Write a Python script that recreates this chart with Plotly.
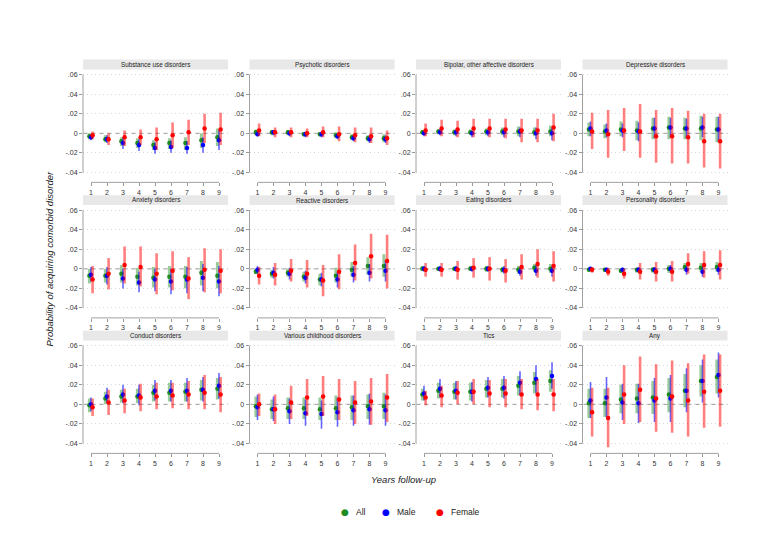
import plotly.graph_objects as go
from plotly.subplots import make_subplots

years = [1, 2, 3, 4, 5, 6, 7, 8, 9]
panel_titles = [
    "Substance use disorders", "Psychotic disorders", "Bipolar, other affective disorders", "Depressive disorders",
    "Anxiety disorders", "Reactive disorders", "Eating disorders", "Personality disorders",
    "Conduct disorders", "Various childhood disorders", "Tics", "Any",
]
ytick_vals = [-0.04, -0.02, 0, 0.02, 0.04, 0.06]
ytick_text = ["-.04", "-.02", "0", ".02", ".04", ".06"]

# point estimates and 95% CI, one row per panel (in panel order above)
all_est = [
    [-0.003, -0.006, -0.008, -0.010, -0.012, -0.010, -0.010, -0.007, -0.004],
    [0.001, 0.001, 0.001, -0.001, -0.001, -0.002, -0.004, -0.005, -0.005],
    [0.001, 0.002, 0.001, 0.001, 0.002, 0.002, 0.002, 0.001, 0.002],
    [0.004, 0.002, 0.004, 0.003, 0.005, 0.006, 0.005, 0.005, 0.004],
    [-0.007, -0.007, -0.005, -0.008, -0.009, -0.008, -0.008, -0.004, -0.007],
    [-0.003, -0.005, -0.004, -0.008, -0.011, -0.007, -0.001, 0.003, 0.003],
    [0.000, 0.000, 0.000, 0.000, 0.000, -0.001, -0.001, 0.001, 0.000],
    [-0.001, -0.001, -0.002, -0.001, -0.001, 0.000, 0.002, 0.001, 0.002],
    [-0.001, 0.006, 0.008, 0.008, 0.012, 0.012, 0.013, 0.015, 0.016],
    [-0.002, -0.005, -0.004, -0.004, -0.005, -0.004, -0.003, -0.002, -0.002],
    [0.010, 0.014, 0.013, 0.013, 0.016, 0.016, 0.019, 0.022, 0.024],
    [0.001, 0.001, 0.005, 0.006, 0.007, 0.010, 0.014, 0.024, 0.028],
]
all_lo = [
    [-0.006, -0.009, -0.013, -0.015, -0.017, -0.016, -0.017, -0.015, -0.013],
    [-0.002, -0.002, -0.002, -0.003, -0.003, -0.005, -0.007, -0.008, -0.009],
    [-0.001, -0.001, -0.002, -0.002, -0.002, -0.002, -0.003, -0.003, -0.003],
    [-0.003, -0.005, -0.003, -0.007, -0.006, -0.006, -0.006, -0.007, -0.009],
    [-0.015, -0.014, -0.014, -0.017, -0.019, -0.019, -0.020, -0.017, -0.020],
    [-0.005, -0.009, -0.008, -0.013, -0.017, -0.014, -0.008, -0.006, -0.008],
    [-0.002, -0.002, -0.002, -0.002, -0.003, -0.004, -0.005, -0.003, -0.004],
    [-0.002, -0.003, -0.004, -0.004, -0.004, -0.004, -0.002, -0.003, -0.003],
    [-0.008, 0.000, 0.002, 0.001, 0.003, 0.003, 0.003, 0.004, 0.005],
    [-0.013, -0.015, -0.015, -0.015, -0.016, -0.016, -0.016, -0.015, -0.015],
    [0.004, 0.006, 0.005, 0.004, 0.007, 0.007, 0.009, 0.011, 0.013],
    [-0.014, -0.013, -0.009, -0.009, -0.010, -0.008, -0.003, 0.008, 0.011],
]
all_hi = [
    [0.000, -0.002, -0.004, -0.005, -0.007, -0.005, -0.004, 0.000, 0.005],
    [0.004, 0.003, 0.003, 0.001, 0.001, 0.001, -0.001, -0.002, -0.001],
    [0.003, 0.004, 0.004, 0.004, 0.005, 0.006, 0.007, 0.006, 0.008],
    [0.011, 0.009, 0.012, 0.013, 0.016, 0.017, 0.016, 0.018, 0.017],
    [0.000, 0.000, 0.004, 0.001, 0.002, 0.003, 0.003, 0.008, 0.007],
    [0.000, -0.001, 0.000, -0.003, -0.005, 0.001, 0.007, 0.012, 0.015],
    [0.003, 0.002, 0.002, 0.003, 0.003, 0.002, 0.003, 0.005, 0.005],
    [0.001, 0.000, 0.000, 0.001, 0.002, 0.004, 0.006, 0.006, 0.007],
    [0.006, 0.013, 0.015, 0.016, 0.020, 0.022, 0.022, 0.025, 0.027],
    [0.008, 0.005, 0.007, 0.007, 0.007, 0.009, 0.009, 0.010, 0.012],
    [0.016, 0.022, 0.022, 0.022, 0.025, 0.026, 0.029, 0.033, 0.035],
    [0.016, 0.016, 0.020, 0.021, 0.024, 0.027, 0.031, 0.040, 0.046],
]

male_est = [
    [-0.004, -0.006, -0.010, -0.012, -0.015, -0.014, -0.015, -0.012, -0.007],
    [-0.001, 0.001, 0.000, -0.001, -0.001, -0.003, -0.005, -0.006, -0.006],
    [0.000, 0.001, 0.001, 0.000, 0.001, 0.001, 0.002, 0.000, 0.000],
    [0.005, 0.003, 0.003, 0.002, 0.005, 0.006, 0.005, 0.006, 0.004],
    [-0.006, -0.007, -0.010, -0.014, -0.011, -0.013, -0.011, -0.009, -0.013],
    [-0.001, -0.004, -0.005, -0.009, -0.011, -0.011, -0.006, -0.004, -0.002],
    [0.000, 0.000, 0.000, 0.000, 0.000, -0.001, -0.003, -0.002, -0.002],
    [0.000, -0.001, -0.001, -0.001, -0.001, 0.000, -0.001, -0.003, -0.001],
    [0.000, 0.008, 0.010, 0.009, 0.014, 0.014, 0.014, 0.015, 0.019],
    [-0.003, -0.005, -0.007, -0.009, -0.010, -0.008, -0.006, -0.005, -0.006],
    [0.011, 0.016, 0.014, 0.013, 0.017, 0.017, 0.022, 0.026, 0.029],
    [0.004, 0.007, 0.002, 0.001, 0.004, 0.006, 0.014, 0.024, 0.030],
]
male_lo = [
    [-0.007, -0.010, -0.016, -0.018, -0.021, -0.020, -0.021, -0.020, -0.017],
    [-0.003, -0.002, -0.003, -0.004, -0.004, -0.006, -0.008, -0.010, -0.010],
    [-0.003, -0.002, -0.003, -0.004, -0.003, -0.004, -0.004, -0.006, -0.007],
    [-0.003, -0.004, -0.004, -0.008, -0.005, -0.004, -0.005, -0.004, -0.008],
    [-0.013, -0.016, -0.020, -0.024, -0.023, -0.026, -0.025, -0.023, -0.028],
    [-0.005, -0.010, -0.011, -0.015, -0.018, -0.019, -0.014, -0.013, -0.013],
    [-0.003, -0.003, -0.003, -0.003, -0.003, -0.005, -0.007, -0.007, -0.008],
    [-0.002, -0.003, -0.003, -0.004, -0.005, -0.004, -0.006, -0.008, -0.006],
    [-0.007, 0.001, 0.001, -0.001, 0.004, 0.003, 0.003, 0.003, 0.006],
    [-0.016, -0.017, -0.020, -0.022, -0.025, -0.023, -0.022, -0.021, -0.022],
    [0.004, 0.007, 0.005, 0.003, 0.007, 0.006, 0.009, 0.012, 0.016],
    [-0.014, -0.013, -0.016, -0.019, -0.018, -0.018, -0.008, 0.002, 0.007],
]
male_hi = [
    [-0.001, -0.002, -0.004, -0.006, -0.009, -0.007, -0.008, -0.004, 0.003],
    [0.002, 0.003, 0.003, 0.002, 0.002, 0.000, -0.001, -0.002, -0.002],
    [0.002, 0.004, 0.004, 0.003, 0.004, 0.005, 0.006, 0.006, 0.006],
    [0.012, 0.010, 0.010, 0.011, 0.016, 0.016, 0.015, 0.017, 0.017],
    [0.002, 0.002, 0.000, -0.003, 0.000, 0.000, 0.002, 0.005, 0.003],
    [0.003, 0.002, 0.001, -0.002, -0.004, -0.003, 0.003, 0.005, 0.009],
    [0.003, 0.003, 0.003, 0.003, 0.003, 0.003, 0.002, 0.004, 0.003],
    [0.002, 0.001, 0.001, 0.002, 0.002, 0.004, 0.003, 0.002, 0.004],
    [0.007, 0.017, 0.020, 0.020, 0.025, 0.025, 0.027, 0.028, 0.032],
    [0.010, 0.008, 0.006, 0.005, 0.004, 0.007, 0.009, 0.011, 0.010],
    [0.019, 0.026, 0.024, 0.023, 0.028, 0.029, 0.034, 0.040, 0.043],
    [0.023, 0.028, 0.021, 0.021, 0.027, 0.030, 0.037, 0.046, 0.053],
]

fem_est = [
    [-0.002, -0.006, -0.004, -0.004, -0.006, -0.002, 0.001, 0.005, 0.004],
    [0.003, 0.001, 0.001, 0.000, 0.001, -0.001, -0.002, -0.003, -0.005],
    [0.003, 0.005, 0.004, 0.005, 0.005, 0.004, 0.003, 0.003, 0.006],
    [0.002, -0.001, 0.003, 0.002, -0.003, -0.003, -0.004, -0.008, -0.008],
    [-0.011, -0.005, 0.004, 0.002, -0.005, -0.002, -0.010, -0.001, -0.002],
    [-0.007, -0.006, -0.002, -0.005, -0.012, -0.003, 0.006, 0.013, 0.008],
    [-0.001, -0.001, -0.001, 0.001, 0.000, -0.002, 0.002, 0.005, 0.003],
    [-0.001, -0.003, -0.005, -0.003, -0.003, -0.003, 0.005, 0.004, 0.004],
    [-0.003, 0.002, 0.004, 0.007, 0.008, 0.009, 0.010, 0.012, 0.010],
    [0.000, -0.005, 0.002, 0.007, 0.008, 0.005, 0.002, 0.003, 0.007],
    [0.007, 0.009, 0.012, 0.013, 0.011, 0.011, 0.010, 0.010, 0.010],
    [-0.008, -0.014, 0.010, 0.015, 0.006, 0.008, 0.004, 0.013, 0.014],
]
fem_lo = [
    [-0.006, -0.012, -0.013, -0.012, -0.017, -0.015, -0.012, -0.010, -0.012],
    [-0.003, -0.004, -0.004, -0.004, -0.004, -0.008, -0.009, -0.010, -0.012],
    [-0.003, -0.003, -0.004, -0.004, -0.004, -0.005, -0.009, -0.009, -0.008],
    [-0.016, -0.025, -0.018, -0.025, -0.030, -0.031, -0.031, -0.035, -0.036],
    [-0.025, -0.021, -0.015, -0.018, -0.026, -0.022, -0.031, -0.024, -0.025],
    [-0.016, -0.017, -0.013, -0.019, -0.028, -0.021, -0.012, -0.010, -0.020],
    [-0.008, -0.008, -0.011, -0.009, -0.012, -0.014, -0.011, -0.009, -0.013],
    [-0.004, -0.007, -0.010, -0.011, -0.013, -0.013, -0.005, -0.009, -0.011],
    [-0.012, -0.011, -0.009, -0.007, -0.005, -0.004, -0.005, -0.005, -0.008],
    [-0.012, -0.020, -0.015, -0.012, -0.012, -0.016, -0.020, -0.021, -0.018],
    [-0.001, -0.003, 0.000, 0.000, -0.003, -0.003, -0.005, -0.006, -0.007],
    [-0.033, -0.044, -0.020, -0.018, -0.028, -0.029, -0.033, -0.024, -0.023],
]
fem_hi = [
    [0.002, 0.000, 0.003, 0.004, 0.006, 0.011, 0.014, 0.020, 0.021],
    [0.010, 0.006, 0.006, 0.005, 0.007, 0.007, 0.006, 0.006, 0.003],
    [0.010, 0.014, 0.013, 0.015, 0.015, 0.015, 0.015, 0.015, 0.020],
    [0.021, 0.024, 0.026, 0.030, 0.024, 0.026, 0.023, 0.020, 0.020],
    [0.003, 0.011, 0.023, 0.023, 0.016, 0.018, 0.012, 0.021, 0.020],
    [0.002, 0.006, 0.010, 0.009, 0.004, 0.015, 0.025, 0.036, 0.035],
    [0.006, 0.006, 0.008, 0.011, 0.012, 0.010, 0.015, 0.020, 0.018],
    [0.002, 0.001, 0.000, 0.006, 0.007, 0.008, 0.016, 0.018, 0.019],
    [0.006, 0.015, 0.016, 0.021, 0.022, 0.022, 0.024, 0.030, 0.028],
    [0.011, 0.010, 0.019, 0.026, 0.029, 0.026, 0.024, 0.027, 0.031],
    [0.014, 0.019, 0.024, 0.026, 0.025, 0.026, 0.026, 0.026, 0.026],
    [0.017, 0.017, 0.040, 0.049, 0.041, 0.045, 0.042, 0.051, 0.051],
]

FONT = "Liberation Sans, Arial, sans-serif"
W, H = 779, 551

# name, est, lo, hi, marker colour, bar colour, bar thickness, x offset
groups = [
    ("All", all_est, all_lo, all_hi, "#1e8c1e", "rgba(30,140,30,0.45)", 3.0, -0.1),
    ("Male", male_est, male_lo, male_hi, "#0000ff", "rgba(0,0,255,0.6)", 1.6, 0.0),
    ("Female", fem_est, fem_lo, fem_hi, "#ff0000", "rgba(255,0,0,0.5)", 2.6, 0.1),
]

fig = make_subplots(rows=3, cols=4)

# panel geometry in pixels
col_left = [75 + 166.5 * c for c in range(4)]
panel_w = 145
row_top = [63.3 + 136 * r for r in range(3)]
row_bot = [173 + 136 * r for r in range(3)]

for p, title in enumerate(panel_titles):
    r, c = divmod(p, 4)
    for name, est, lo, hi, mcol, bcol, thick, off in groups:
        e = est[p]
        fig.add_trace(go.Scatter(
            x=[yr + off for yr in years], y=e, mode="markers", name=name,
            marker=dict(color=mcol, size=4.5),
            error_y=dict(type="data", symmetric=False,
                         array=[h - v for h, v in zip(hi[p], e)],
                         arrayminus=[v - l for v, l in zip(e, lo[p])],
                         color=bcol, thickness=thick, width=0),
            showlegend=False,
        ), row=r + 1, col=c + 1)

    idx = "" if p == 0 else str(p + 1)
    xd = [col_left[c] / W, (col_left[c] + panel_w) / W]
    yd = [1 - row_bot[r] / H, 1 - row_top[r] / H]
    fig.update_layout({
        f"xaxis{idx}": dict(domain=xd, range=[0.5, 9.5625], tickvals=years,
                            ticks="outside", ticklen=3, tickcolor="#999",
                            showgrid=False, zeroline=False, showline=False,
                            tickfont=dict(size=7, color="#333", family=FONT)),
        f"yaxis{idx}": dict(domain=yd, range=[-0.0502, 0.0617],
                            tickvals=ytick_vals, ticktext=ytick_text,
                            ticks="outside", ticklen=3, tickcolor="#999",
                            showgrid=True, gridcolor="#d6d6d6", griddash="1px,3px",
                            zeroline=False, showline=False,
                            tickfont=dict(size=7, color="#333", family=FONT)),
    })
    xr, yr_ = f"x{idx}", f"y{idx}"
    # axis lines spanning the tick range (Stata style)
    fig.add_shape(type="line", xref=f"{xr} domain", yref=yr_, x0=0, x1=0,
                  y0=ytick_vals[0], y1=ytick_vals[-1], line=dict(color="#a0a0a0", width=1))
    fig.add_shape(type="line", xref=xr, yref=f"{yr_} domain", x0=years[0], x1=years[-1],
                  y0=0, y1=0, line=dict(color="#a0a0a0", width=1))
    # dashed reference line at zero
    fig.add_shape(type="line", xref=f"{xr} domain", yref=yr_, x0=0, x1=1, y0=0, y1=0,
                  line=dict(color="#9a9a9a", width=1, dash="5px,3px"), layer="below")
    # panel header box
    top_px = row_top[r]
    fig.add_shape(type="rect", xref=f"{xr} domain", yref="paper", x0=0, x1=1,
                  y0=1 - (top_px - 3.5) / H, y1=1 - (top_px - 13.5) / H,
                  fillcolor="#e8e8e8", line=dict(width=0))
    fig.add_annotation(text=title, xref=f"{xr} domain", yref="paper", x=0.5,
                       y=1 - (top_px - 8.5) / H, showarrow=False,
                       xanchor="center", yanchor="middle",
                       font=dict(size=6.3, color="#222", family=FONT))

# legend: coloured dot + label, laid out like the Stata legend
legend_dot_x = [337, 378, 432]
legend_y = 1 - 504 / H
for (name, est, lo, hi, mcol, bcol, thick, off), lx in zip(groups, legend_dot_x):
    fig.add_annotation(text="\u25CF", xref="paper", yref="paper", x=lx / W, y=legend_y,
                       showarrow=False, xanchor="center", yanchor="middle",
                       font=dict(size=9, color=mcol, family="DejaVu Sans"))
    fig.add_annotation(text=name, xref="paper", yref="paper", x=(lx + 9) / W, y=legend_y,
                       showarrow=False, xanchor="left", yanchor="middle",
                       font=dict(size=8.5, color="#222", family=FONT))

fig.add_annotation(text="<i>Probability of acquiring comorbid disorder</i>", xref="paper", yref="paper",
                   x=34 / W, y=1 - 250 / H, textangle=-90, showarrow=False,
                   font=dict(size=9.5, color="#222", family=FONT))
fig.add_annotation(text="<i>Years follow-up</i>", xref="paper", yref="paper",
                   x=395 / W, y=1 - 479 / H, showarrow=False,
                   font=dict(size=9.5, color="#222", family=FONT))

fig.update_layout(
    width=W, height=H, margin=dict(l=0, r=0, t=0, b=0),
    paper_bgcolor="white", plot_bgcolor="white", showlegend=False,
)

fig.write_html("out.html")
